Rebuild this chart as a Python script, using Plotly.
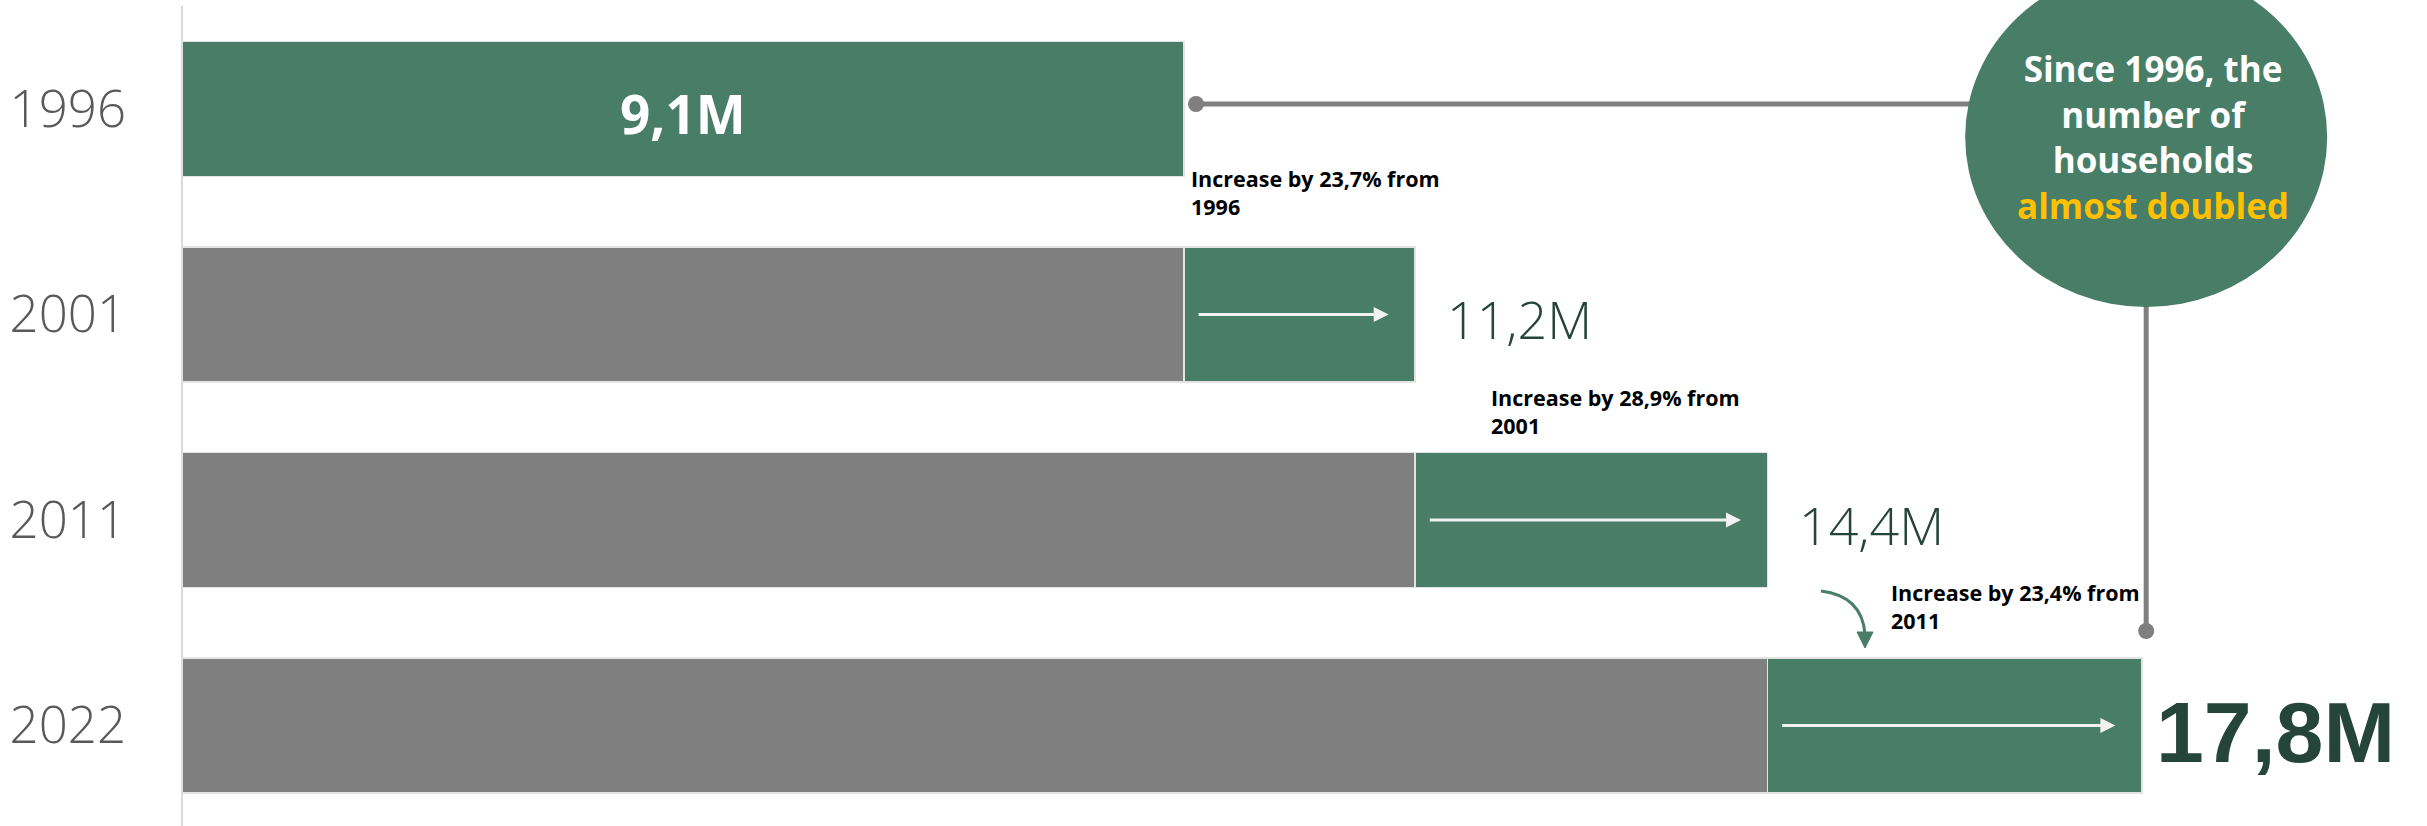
import plotly.graph_objects as go

# ---------------- data ----------------
years = ["1996", "2001", "2011", "2022"]
households_m = [9.1, 11.2, 14.4, 17.8]
value_labels = ["9,1M", "11,2M", "14,4M", "17,8M"]
increase_notes = [
    "Increase by 23,7% from<br>1996",
    "Increase by 28,9% from<br>2001",
    "Increase by 23,4% from<br>2011",
]
callout_lines = ["Since 1996, the", "number of", "households", "almost doubled"]

# ---------------- derived ----------------
ypos = list(range(len(years)))
previous = [None] + households_m[:-1]
growth = [v - (p or 0) for v, p in zip(households_m, previous)]

GREEN = "#487D67"
GRAY = "#7F7F7F"
DARK = "#25453A"
EDGE = "#E3E3E3"

W, H = 2427, 826
L = 182
PX_PER_M = 110.1
PX_PER_CAT = 205.5
CENTER0 = 109.0


def vy(px):
    # pixel row -> y data value
    return (px - CENTER0) / PX_PER_CAT


def vx(px):
    return (px - L) / PX_PER_M


fig = go.Figure()
fig.add_trace(go.Bar(
    y=ypos, x=previous, orientation="h", width=0.657,
    marker=dict(color=GRAY, line=dict(color=EDGE, width=1.5)),
    showlegend=False, hoverinfo="skip",
))
fig.add_trace(go.Bar(
    y=ypos, x=growth, orientation="h", width=0.657,
    marker=dict(color=GREEN, line=dict(color=EDGE, width=1.5)),
    showlegend=False, hoverinfo="skip",
))

# left axis line
fig.add_shape(type="line", xref="paper", yref="paper", x0=0, x1=0,
              y0=0, y1=1 - 6 / H, line=dict(color="#D9D9D9", width=2), layer="below")

# connector lines (1996 bar -> callout circle -> 2022 bar)
cx = households_m[-1] + 0.04
line_y = vy(104)
circle_y = vy(137)
dot_y = vy(631)
start_x = households_m[0] + 0.11
fig.add_shape(type="line", x0=start_x, x1=cx, y0=line_y, y1=line_y,
              line=dict(color=GRAY, width=5))
fig.add_shape(type="line", x0=cx, x1=cx, y0=circle_y, y1=dot_y,
              line=dict(color=GRAY, width=5))
fig.add_trace(go.Scatter(
    x=[start_x, cx], y=[line_y, dot_y], mode="markers",
    marker=dict(color=GRAY, size=16), showlegend=False, hoverinfo="skip",
))
# callout circle
fig.add_shape(type="circle", xref="x", yref="y",
              xsizemode="pixel", ysizemode="pixel",
              xanchor=cx, yanchor=circle_y,
              x0=-181, x1=181, y0=-170, y1=170,
              fillcolor=GREEN, line=dict(width=0))

annotations = []
# callout text (single block)
callout_text = "<br>".join(callout_lines[:-1]) + \
    f"<br><span style='color:#FFC000'>{callout_lines[-1]}</span>"
annotations.append(dict(
    x=vx(2153), y=vy(137), xref="x", yref="y", text=callout_text, showarrow=False,
    xanchor="center", yanchor="middle", align="center",
    font=dict(family="Open Sans", size=35, weight="bold", color="white"),
))

# value labels
for i, (v, lab) in enumerate(zip(households_m, value_labels)):
    if i == 0:
        annotations.append(dict(
            x=v / 2, y=ypos[i], text=lab, showarrow=False, xanchor="center",
            yanchor="middle", yshift=-4,
            font=dict(family="Open Sans", size=53, weight="bold", color="white")))
    elif i == len(households_m) - 1:
        annotations.append(dict(
            x=v, y=ypos[i], text=lab, showarrow=False, xanchor="left",
            yanchor="middle", xshift=12, yshift=-6,
            font=dict(family="Liberation Sans", size=86, weight="bold", color=DARK)))
    else:
        annotations.append(dict(
            x=v, y=ypos[i], text=lab, showarrow=False, xanchor="left",
            yanchor="middle", xshift=30, yshift=-4,
            font=dict(family="Open Sans", size=52, weight=300, color=DARK)))

# increase notes
note_x_off = [0.05, 0.67, 1.10]
note_y = [vy(192), vy(411), vy(606)]
for i, note in enumerate(increase_notes):
    annotations.append(dict(
        x=households_m[i] + note_x_off[i], y=note_y[i], text=note, showarrow=False,
        xanchor="left", yanchor="middle", align="left",
        font=dict(family="Open Sans", size=21.5, weight="bold", color="black")))

# white growth arrows inside the green segments
for i in range(1, len(households_m)):
    annotations.append(dict(
        x=households_m[i] - 0.24, y=ypos[i],
        ax=households_m[i - 1] + 0.12, ay=ypos[i],
        xref="x", yref="y", axref="x", ayref="y",
        text="", showarrow=True, arrowhead=2, arrowsize=1.0, arrowwidth=3,
        arrowcolor="#F2F2F2", standoff=0, startstandoff=0,
    ))

# curved green arrow near 2022
fig.add_shape(type="path",
              path=f"M {vx(1821)},{vy(591)} Q {vx(1862)},{vy(596)} {vx(1865)},{vy(634)}",
              line=dict(color=GREEN, width=3), fillcolor="rgba(0,0,0,0)")
fig.add_shape(type="path",
              path=(f"M {vx(1857)},{vy(632)} L {vx(1873)},{vy(632)} "
                    f"L {vx(1865)},{vy(648)} Z"),
              line=dict(color=GREEN, width=1), fillcolor=GREEN)

fig.update_layout(
    width=W, height=H,
    margin=dict(l=L, r=0, t=0, b=0, pad=0, autoexpand=False),
    paper_bgcolor="white", plot_bgcolor="white",
    barmode="stack",
    annotations=annotations,
    xaxis=dict(visible=False, range=[0, (W - L) / PX_PER_M], fixedrange=True,
               automargin=False),
    yaxis=dict(
        range=[vy(H), vy(0)], tickmode="array", tickvals=ypos, ticktext=years,
        showgrid=False, zeroline=False, showline=False, automargin=False,
        ticks="", ticklabelstandoff=55,
        tickfont=dict(family="Open Sans", size=51, weight=300, color="#595959"),
    ),
)

fig.write_html(
    "out.html",
    config={"displayModeBar": False, "staticPlot": True},
    post_script="document.body.style.margin='0px';document.body.style.overflow='hidden';",
)
